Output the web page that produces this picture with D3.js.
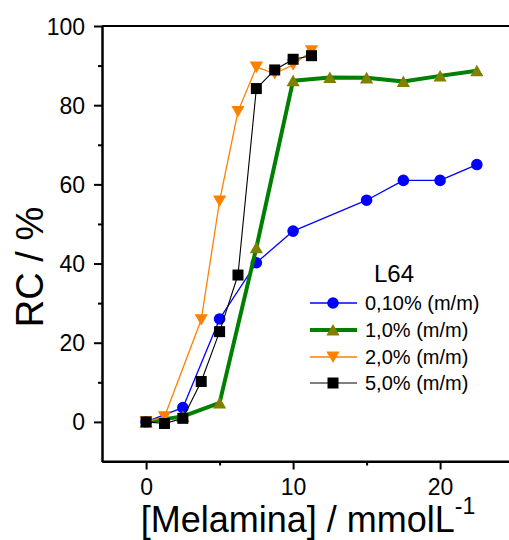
<!DOCTYPE html>
<html>
<head>
<meta charset="utf-8">
<script src="https://cdn.jsdelivr.net/npm/d3@7"></script>
<style>
  html, body { margin: 0; padding: 0; background: #fff; }
  svg { display: block; font-family: "Liberation Sans", Arial, sans-serif; }
</style>
</head>
<body>
<svg id="chart" width="509" height="540"></svg>
<script>
// Melamine concentration (mmol/L) vs RC (%) for L64 at four concentrations
const xBlue   = [0, 2.5, 5, 7.5, 10, 15, 17.5, 20, 22.5];
const yBlue   = [0, 3.6, 26, 40.2, 48.2, 56, 61, 61, 65];
const xGreen  = [0, 2.5, 5, 7.5, 10, 12.5, 15, 17.5, 20, 22.5];
const yGreen  = [0, 1.4, 4.8, 44, 86.2, 87, 86.9, 86, 87.4, 88.7];
const xOrange = [0, 1.25, 3.75, 5, 6.25, 7.5, 8.75, 10, 11.25];
const yOrange = [0, 1.3, 25.8, 55.8, 78.4, 89.6, 88, 90.2, 93.7];
const xBlack  = [0, 1.25, 2.5, 3.75, 5, 6.25, 7.5, 8.75, 10, 11.25];
const yBlack  = [0, -0.4, 0.9, 10.2, 22.8, 37.1, 84.2, 88.9, 91.6, 92.5];

const seriesNames = ["0,10% (m/m)", "1,0% (m/m)", "2,0% (m/m)", "5,0% (m/m)"];
const legendTitle = "L64";
const xTicksMajor = [0, 10, 20];
const xTicksMinor = [5, 15];
const yTicksMajor = [0, 20, 40, 60, 80, 100];
const yTicksMinor = [10, 30, 50, 70, 90];

const series = [
  { name: seriesNames[0], xs: xBlue,   ys: yBlue,   line: "#0000ff", fill: "#0000ff", width: 1.3, shape: "circle" },
  { name: seriesNames[1], xs: xGreen,  ys: yGreen,  line: "#008000", fill: "#808000", width: 4,   shape: "up" },
  { name: seriesNames[2], xs: xOrange, ys: yOrange, line: "#ff8000", fill: "#ff8000", width: 1.3, shape: "down" },
  { name: seriesNames[3], xs: xBlack,  ys: yBlack,  line: "#000000", fill: "#000000", width: 1.1, shape: "square" }
];

const svg = d3.select("#chart");
const x = d3.scaleLinear().domain([-3, 25]).range([102, 102 + 28 * 14.7]);
const y = d3.scaleLinear().domain([-10, 100]).range([461.5, 26]);

// marker shapes centred on the origin
function markerPath(shape) {
  switch (shape) {
    case "circle": return d3.symbol(d3.symbolCircle, Math.PI * 5.8 * 5.8)();
    case "up":     return "M-6.6,5.6L6.6,5.6L0,-6Z";
    case "down":   return "M-6.6,-5.6L6.6,-5.6L0,6Z";
    case "square": return "M-5.5,-5.5H5.5V5.5H-5.5Z";
  }
}

// frame: top border and axes
const frame = svg.append("g").attr("stroke", "#000").attr("stroke-width", 2);
frame.append("line").attr("x1", x(-3)).attr("x2", x(25)).attr("y1", y(100)).attr("y2", y(100));

const xAxis = svg.append("g").attr("transform", `translate(0,${y(-10)})`)
  .call(d3.axisBottom(x).tickValues(xTicksMajor).tickSize(8).tickSizeOuter(0).tickPadding(9));
const xMinor = svg.append("g").attr("transform", `translate(0,${y(-10)})`)
  .call(d3.axisBottom(x).tickValues(xTicksMinor).tickSize(4).tickSizeOuter(0).tickFormat(""));
const yAxis = svg.append("g").attr("transform", `translate(${x(-3)},0)`)
  .call(d3.axisLeft(y).tickValues(yTicksMajor).tickSize(8).tickSizeOuter(0).tickPadding(9));
const yMinor = svg.append("g").attr("transform", `translate(${x(-3)},0)`)
  .call(d3.axisLeft(y).tickValues(yTicksMinor).tickSize(4).tickSizeOuter(0).tickFormat(""));

[xAxis, xMinor, yAxis, yMinor].forEach(g => {
  g.selectAll("path.domain").attr("stroke-width", 2).attr("stroke", "#000");
  g.selectAll(".tick line").attr("stroke-width", 2).attr("stroke", "#000");
  g.selectAll(".tick text").attr("font-size", 23).attr("fill", "#000")
    .attr("font-family", "Liberation Sans, Arial, sans-serif");
});
yAxis.selectAll(".tick text").attr("dy", "0.35em");
xAxis.select("path.domain").attr("d", `M${x(-3)},0H${x(25)}`);

// axis titles
svg.append("text")
  .attr("transform", "translate(43,267) rotate(-90)")
  .attr("text-anchor", "middle").attr("font-size", 38).text("RC / %");

const xt = svg.append("text")
  .attr("x", 308).attr("y", 532).attr("text-anchor", "middle").attr("font-size", 36);
xt.append("tspan").text("[Melamina] / mmolL");
xt.append("tspan").attr("font-size", 23).attr("dy", -18).text("-1");

// series lines and markers
const lineGen = d3.line().x(d => x(d[0])).y(d => y(d[1]));
series.forEach(s => {
  const pts = s.xs.map((v, i) => [v, s.ys[i]]);
  const g = svg.append("g");
  g.append("path").datum(pts).attr("d", lineGen)
    .attr("fill", "none").attr("stroke", s.line).attr("stroke-width", s.width)
    .attr("stroke-linejoin", "round");
  g.selectAll("path.m").data(pts).join("path").attr("class", "m")
    .attr("d", markerPath(s.shape))
    .attr("transform", d => `translate(${x(d[0])},${y(d[1])})`)
    .attr("fill", s.fill);
});

// legend
const lg = svg.append("g");
lg.append("text").attr("x", 394).attr("y", 282).attr("text-anchor", "middle")
  .attr("font-size", 24).text(legendTitle);
const rowY = [303, 330, 357, 383];
series.forEach((s, i) => {
  const r = lg.append("g").attr("transform", `translate(0,${rowY[i]})`);
  r.append("line").attr("x1", 310).attr("x2", 357).attr("y1", 0).attr("y2", 0)
    .attr("stroke", s.line).attr("stroke-width", s.width);
  r.append("path").attr("d", markerPath(s.shape)).attr("transform", "translate(333,0)")
    .attr("fill", s.fill);
  r.append("text").attr("x", 365).attr("y", 0).attr("dy", "0.36em")
    .attr("font-size", 20).text(s.name);
});
</script>
</body>
</html>
